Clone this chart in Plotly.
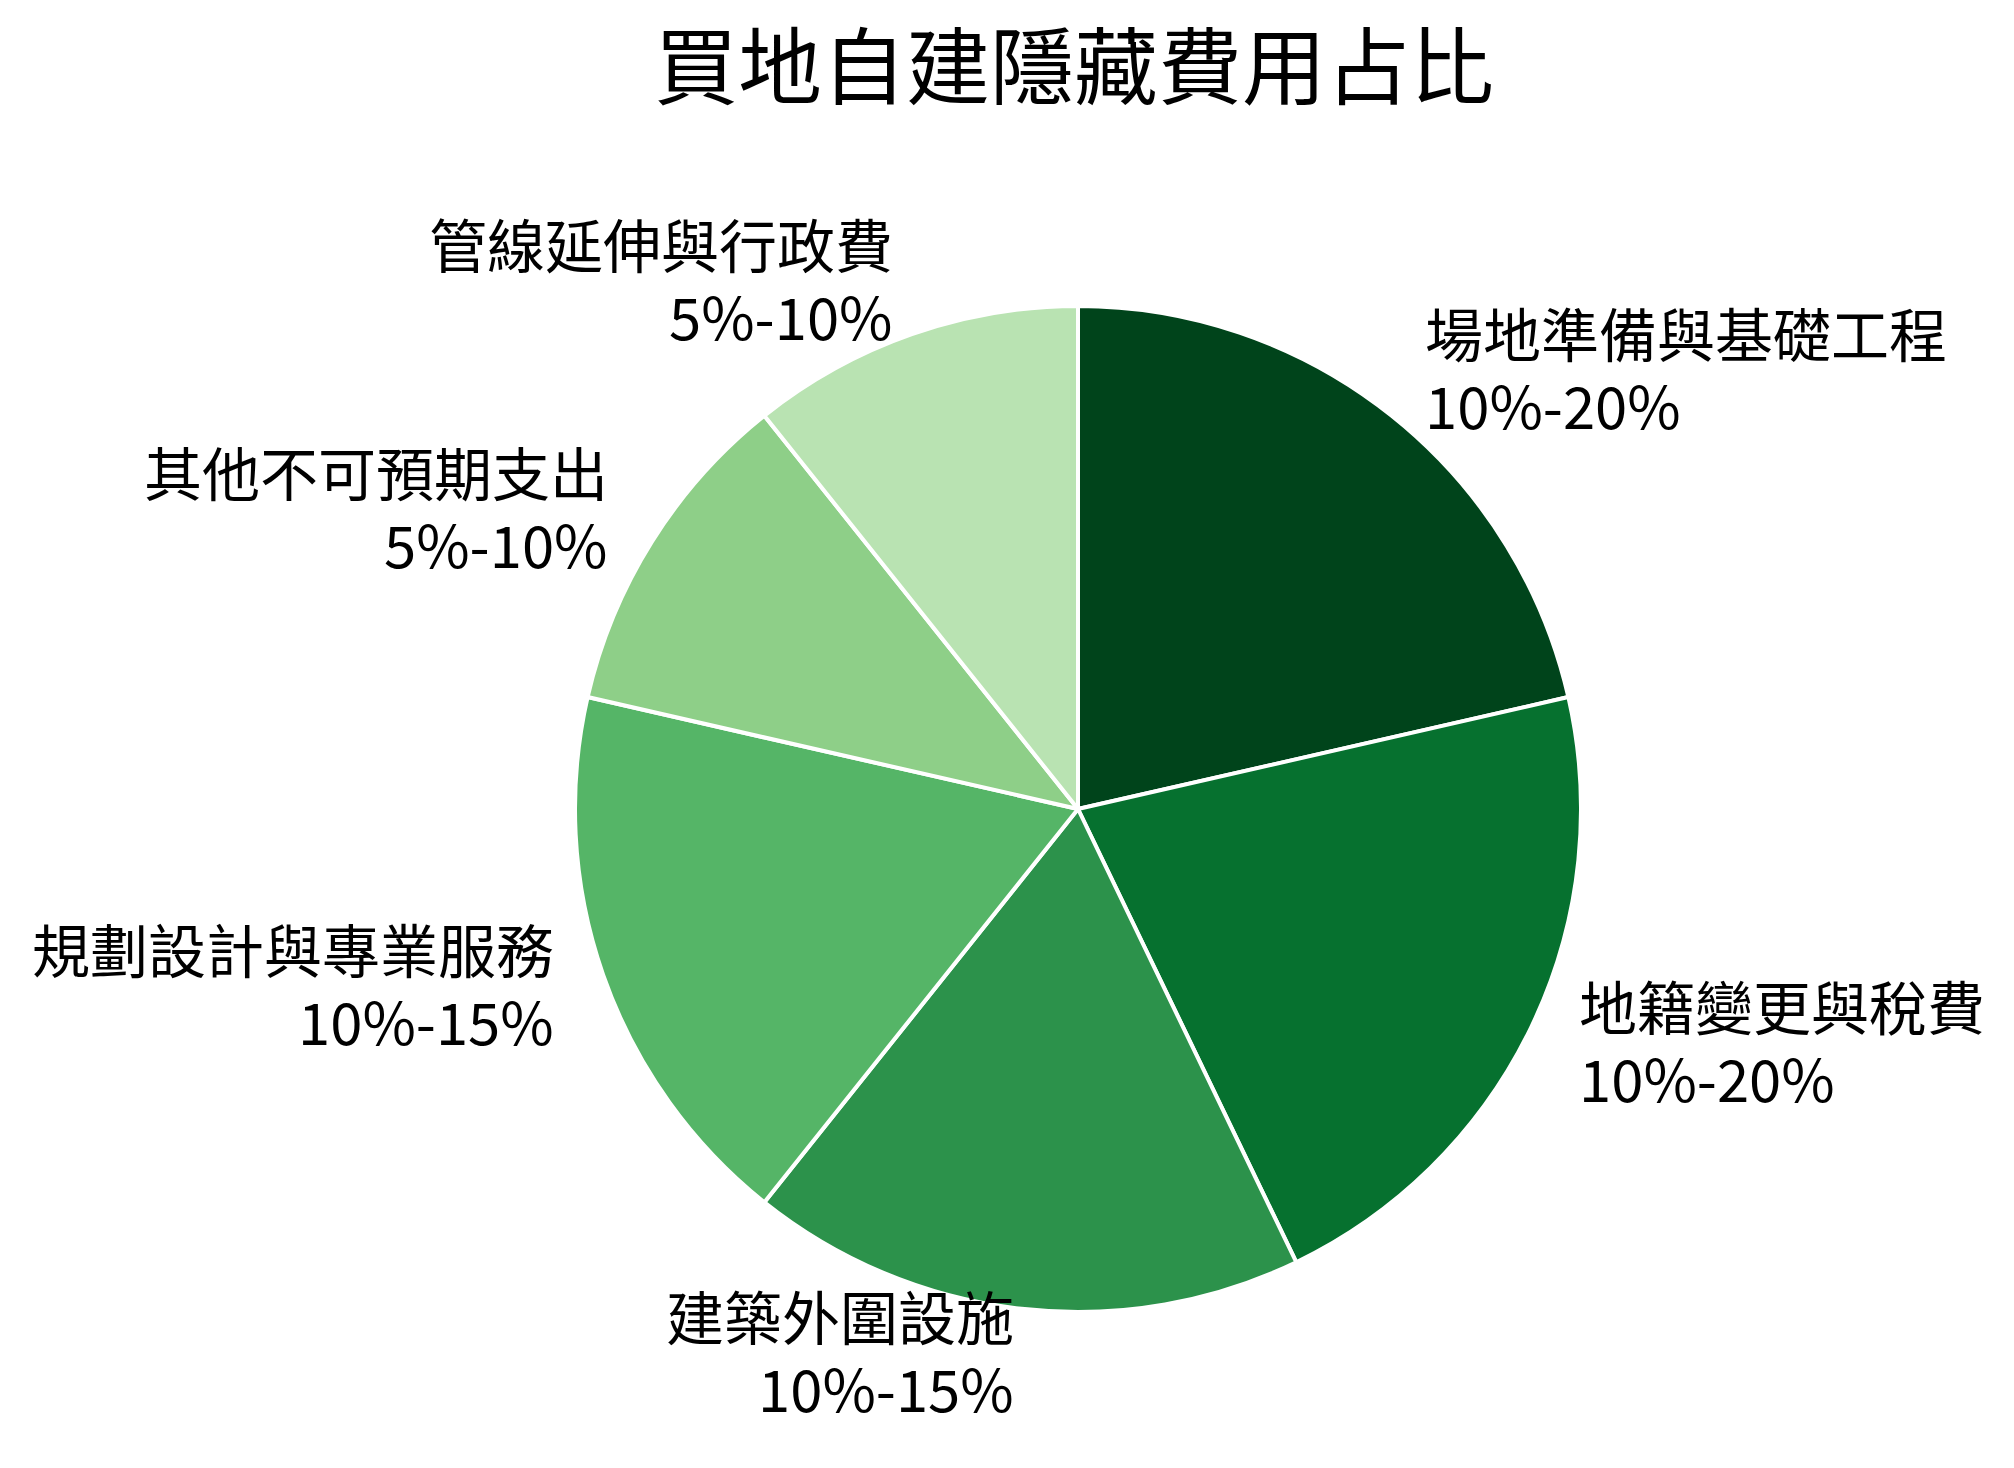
import numpy as np
import plotly.graph_objects as go

# Datos del gráfico
categorias = [
    "場地準備與基礎工程",
    "地籍變更與稅費",
    "建築外圍設施",
    "規劃設計與專業服務",
    "其他不可預期支出",
    "管線延伸與行政費",
]
rangos = ["10%-20%", "10%-20%", "10%-15%", "10%-15%", "5%-10%", "5%-10%"]
valores = [15, 15, 12.5, 12.5, 7.5, 7.5]
colores = ["#00441b", "#06712f", "#2c924b", "#55b567", "#8ecf88", "#b9e3b2"]

titulo = "買地自建隱藏費用占比"

# Geometría (px)
W, H = 2014, 1468
cx_px, cy_px, r_px = 1070, 801, 503
FONT = "Noto Sans CJK TC"
LABEL_SIZE = 58
LINE_GAP = 72  # distancia entre las dos líneas de cada etiqueta
LABEL_LIFT = 8  # ajuste vertical de las etiquetas

cx = cx_px / W
cy = 1 - cy_px / H

fig = go.Figure()
fig.add_trace(
    go.Pie(
        labels=categorias,
        values=valores,
        sort=False,
        direction="clockwise",
        rotation=0,
        textinfo="none",
        hoverinfo="label+percent",
        marker=dict(colors=colores, line=dict(color="white", width=4)),
        domain=dict(
            x=[(cx_px - r_px) / W, (cx_px + r_px) / W],
            y=[(H - cy_px - r_px) / H, (H - cy_px + r_px) / H],
        ),
        showlegend=False,
    )
)

# Etiquetas fuera del pastel (estilo labeldistance=1.1)
total = sum(valores)
acum = np.cumsum([0] + valores[:-1])
for cat, rng, v, a in zip(categorias, rangos, valores, acum):
    theta = 2 * np.pi * (a + v / 2) / total
    dx = 1.1 * r_px * np.sin(theta)
    dy = 1.1 * r_px * np.cos(theta) + LABEL_LIFT
    lado = "left" if dx >= 0 else "right"
    for txt, off in ((cat, LINE_GAP / 2), (rng, -LINE_GAP / 2)):
        fig.add_annotation(
            text=txt,
            xref="paper",
            yref="paper",
            x=cx + dx / W,
            y=cy + (dy + off) / H,
            xanchor=lado,
            yanchor="middle",
            align=lado,
            showarrow=False,
            font=dict(family=FONT, size=LABEL_SIZE, color="black"),
        )

fig.add_annotation(
    text=titulo,
    xref="paper",
    yref="paper",
    x=1066 / W,
    y=1 + 9 / H,
    xanchor="center",
    yanchor="top",
    showarrow=False,
    font=dict(family=FONT, size=84, color="black"),
)

fig.update_layout(
    width=W,
    height=H,
    margin=dict(l=0, r=0, t=0, b=0),
    paper_bgcolor="white",
    plot_bgcolor="white",
    font=dict(family=FONT),
)

fig.write_html("out.html")
